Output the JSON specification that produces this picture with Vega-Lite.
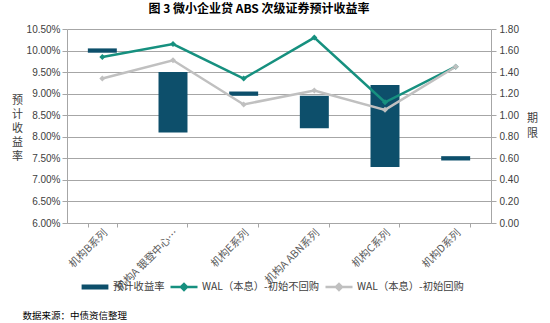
{
  "$schema": "https://vega.github.io/schema/vega-lite/v6.json",
  "width": 424,
  "height": 194,
  "autosize": {"type": "none"},
  "padding": {"left": 67, "top": 29, "right": 59, "bottom": 100},
  "background": "white",
  "config": {
    "view": {"stroke": null},
    "font": "Noto Sans CJK SC"
  },
  "title": {
    "text": "图 3 微小企业贷 ABS 次级证券预计收益率",
    "font": "Noto Sans CJK SC",
    "fontSize": 12,
    "fontWeight": "bold",
    "color": "#000000",
    "anchor": "middle",
    "dx": -20,
    "offset": 8
  },
  "data": {
    "values": [
      {"cat": "机构B系列", "low": 0.0995, "high": 0.1005, "WAL（本息）-初始不回购": 1.54, "WAL（本息）-初始回购": 1.34},
      {"cat": "机构A 银登中心…", "low": 0.081, "high": 0.095, "WAL（本息）-初始不回购": 1.66, "WAL（本息）-初始回购": 1.51},
      {"cat": "机构E系列", "low": 0.0895, "high": 0.0905, "WAL（本息）-初始不回购": 1.34, "WAL（本息）-初始回购": 1.10},
      {"cat": "机构A ABN系列", "low": 0.082, "high": 0.0895, "WAL（本息）-初始不回购": 1.72, "WAL（本息）-初始回购": 1.23},
      {"cat": "机构C系列", "low": 0.073, "high": 0.092, "WAL（本息）-初始不回购": 1.12, "WAL（本息）-初始回购": 1.05},
      {"cat": "机构D系列", "low": 0.0745, "high": 0.0755, "WAL（本息）-初始不回购": 1.45, "WAL（本息）-初始回购": 1.45}
    ]
  },
  "encoding": {
    "x": {
      "field": "cat",
      "type": "nominal",
      "sort": null,
      "scale": {"paddingInner": 0.59, "paddingOuter": 0.295},
      "axis": {
        "title": "数据来源：中债资信整理",
        "titleFont": "Noto Sans CJK SC",
        "titleFontSize": 9.5,
        "titleFontWeight": "normal",
        "titleColor": "#000000",
        "titleAnchor": "start",
        "titleAlign": "left",
        "titleBaseline": "middle",
        "titleX": -45,
        "titleY": 92,
        "labelAngle": -45,
        "labelAlign": "right",
        "labelBaseline": "middle",
        "labelFont": "Noto Sans CJK SC",
        "labelFontSize": 10.5,
        "labelColor": "#595959",
        "labelPadding": 4,
        "labelOffset": 3,
        "labelLimit": 200,
        "tickBand": "extent",
        "tickColor": "#A6A6A6",
        "tickSize": 4,
        "domainColor": "#A6A6A6",
        "grid": false
      }
    }
  },
  "layer": [
    {
      "mark": {"type": "bar", "color": "#0D4F6B"},
      "encoding": {
        "y": {
          "field": "low",
          "type": "quantitative",
          "scale": {"domain": [0.06, 0.105], "nice": false, "zero": false},
          "axis": {
            "orient": "left",
            "values": [0.06, 0.065, 0.07, 0.075, 0.08, 0.085, 0.09, 0.095, 0.1, 0.105],
            "format": ".2%",
            "grid": true,
            "gridColor": "#A6A6A6",
            "gridWidth": 1,
            "domainColor": "#A6A6A6",
            "tickColor": "#A6A6A6",
            "tickSize": 5,
            "labelPadding": 2,
            "labelOverlap": false,
            "labelFont": "Liberation Sans",
            "labelFontSize": 10,
            "labelColor": "#404040",
            "title": ["预", "计", "收", "益", "率"],
            "titleFont": "Noto Sans CJK SC",
            "titleFontSize": 11,
            "titleFontWeight": "normal",
            "titleColor": "#404040",
            "titleAngle": 0,
            "titleAlign": "center",
            "titleBaseline": "top",
            "titleLineHeight": 14,
            "titleX": -50,
            "titleY": 65
          }
        },
        "y2": {"field": "high"},
        "color": {
          "datum": "预计收益率",
          "type": "nominal",
          "title": null,
          "scale": {
            "domain": ["预计收益率", "WAL（本息）-初始不回购", "WAL（本息）-初始回购"],
            "range": ["#0D4F6B", "#16907F", "#C0C0C0"]
          },
          "legend": {
            "orient": "none",
            "direction": "horizontal",
            "legendX": 13,
            "legendY": 243,
            "title": null,
            "padding": 0,
            "gridAlign": "none",
            "labelFont": "Noto Sans CJK SC",
            "labelFontSize": 10.3,
            "labelColor": "#404040",
            "labelOffset": 3,
            "columnPadding": 0,
            "symbolSize": 729,
            "symbolOpacity": 1,
            "symbolStrokeWidth": 2.5,
            "encode": {
              "symbols": {
                "update": {
                  "shape": {"signal": "datum.value === '预计收益率' ? 'M-0.9,-0.1H0.9V0.1H-0.9Z' : 'M-1,0H1M-0.22,0L0,-0.22L0.22,0L0,0.22Z'"},
                  "fill": {"scale": "color", "field": "value"},
                  "stroke": {"signal": "datum.value === '预计收益率' ? 'transparent' : scale('color', datum.value)"},
                  "strokeWidth": {"value": 2.5},
                  "opacity": {"value": 1}
                }
              }
            }
          }
        }
      }
    },
    {
      "transform": [
        {"fold": ["WAL（本息）-初始不回购", "WAL（本息）-初始回购"], "as": ["series", "wal"]}
      ],
      "mark": {"type": "line", "strokeWidth": 2.5, "point": {"filled": true, "shape": "diamond", "size": 36}},
      "encoding": {
        "y": {
          "field": "wal",
          "type": "quantitative",
          "scale": {"domain": [0, 1.8], "nice": false, "zero": true},
          "axis": {
            "orient": "right",
            "values": [0, 0.2, 0.4, 0.6, 0.8, 1.0, 1.2, 1.4, 1.6, 1.8],
            "format": ".2f",
            "grid": false,
            "labelOverlap": false,
            "domainColor": "#A6A6A6",
            "tickColor": "#A6A6A6",
            "tickSize": 5,
            "labelPadding": 3,
            "labelFont": "Liberation Sans",
            "labelFontSize": 10,
            "labelColor": "#404040",
            "title": ["期", "限"],
            "titleFont": "Noto Sans CJK SC",
            "titleFontSize": 11,
            "titleFontWeight": "normal",
            "titleColor": "#404040",
            "titleAngle": 0,
            "titleAlign": "center",
            "titleBaseline": "top",
            "titleLineHeight": 15,
            "titleX": 41,
            "titleY": 83
          }
        },
        "color": {"field": "series", "type": "nominal", "title": null}
      }
    }
  ],
  "resolve": {"scale": {"y": "independent"}}
}
